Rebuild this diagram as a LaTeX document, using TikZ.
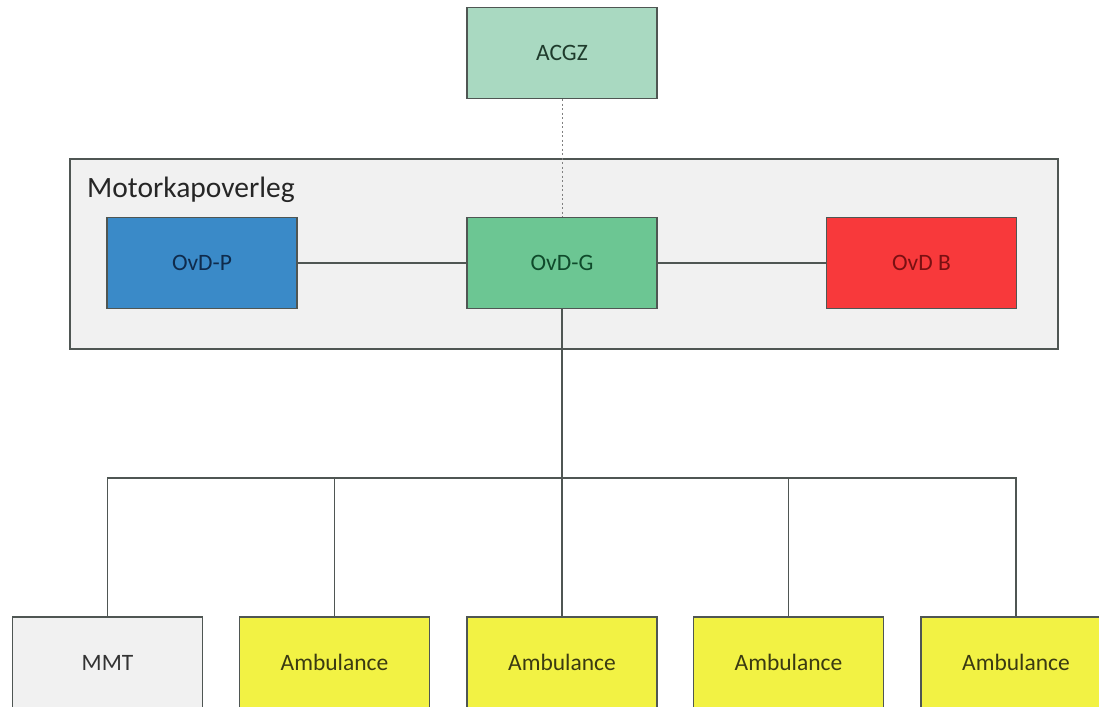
\documentclass[tikz,border=0pt]{standalone}
\usepackage{fontspec}
\setmainfont{Carlito}
\definecolor{boxline}{HTML}{4F5653}
\definecolor{panelfill}{HTML}{F1F1F1}
\definecolor{acgzfill}{HTML}{A9D9C1}
\definecolor{acgztext}{HTML}{1F3B2C}
\definecolor{pfill}{HTML}{3A8AC8}
\definecolor{ptext}{HTML}{0F2B4C}
\definecolor{gfill}{HTML}{6CC693}
\definecolor{gtext}{HTML}{0F4A2B}
\definecolor{bfill}{HTML}{F8393B}
\definecolor{btext}{HTML}{7A1012}
\definecolor{mfill}{HTML}{F1F1F1}
\definecolor{mtext}{HTML}{333333}
\definecolor{afill}{HTML}{F2F244}
\definecolor{atext}{HTML}{3A3A12}
\tikzset{
  unit/.style={draw=boxline, line width=1.3pt, minimum width=190pt, minimum height=91pt,
    inner sep=0pt, font=\fontsize{23.5}{28}\selectfont},
  acgz/.style={unit, fill=acgzfill, text=acgztext},
  police/.style={unit, fill=pfill, text=ptext},
  medic/.style={unit, fill=gfill, text=gtext},
  fire/.style={unit, fill=bfill, text=btext},
  mmt/.style={unit, fill=mfill, text=mtext},
  amb/.style={unit, fill=afill, text=atext},
  link/.style={draw=boxline, line width=1.2pt},
  liaison/.style={draw=gray, line width=0.8pt, dash pattern=on 2pt off 2.5pt},
}
\begin{document}
\begin{tikzpicture}[x=1pt, y=-1pt]
  \useasboundingbox (0,0) rectangle (1099,706);
  \clip (0,0) rectangle (1099,706);

  % command post panel
  \node[draw=boxline, line width=1.3pt, fill=panelfill, minimum width=988pt,
        minimum height=190pt, inner sep=0pt] (panel) at (564,254) {};
  \node[anchor=base west, inner sep=0pt, text=black!85,
        font=\fontsize{29.5}{34}\selectfont] (title) at (87,197) {Motorkapoverleg};

  % units
  \node[acgz]   (acgz) at (562,53)    {ACGZ};
  \node[police] (P)    at (202,263)   {OvD-P};
  \node[medic]  (G)    at (562,263)   {OvD-G};
  \node[fire]   (B)    at (921.5,263) {OvD B};

  \node[mmt] (MMT) at (107.5,662.5) {MMT};
  \node[amb] (A1)  at (334.5,662.5) {Ambulance};
  \node[amb] (A2)  at (562,662.5)   {Ambulance};
  \node[amb] (A3)  at (788.5,662.5) {Ambulance};
  \node[amb] (A4)  at (1016,662.5)  {Ambulance};

  % connectors
  \draw[liaison] (acgz.south) -- (G.north);
  \draw[link] (P.east) -- (G.west);
  \draw[link] (G.east) -- (B.west);

  \coordinate (bus) at (562,478);
  \draw[link] (G.south) -- (bus);
  \draw[link] (MMT.north) -- (MMT.north |- bus) -- (A4.north |- bus) -- (A4.north);
  \foreach \n in {A1,A2,A3} \draw[link] (\n.north) -- (\n.north |- bus);
\end{tikzpicture}
\end{document}
